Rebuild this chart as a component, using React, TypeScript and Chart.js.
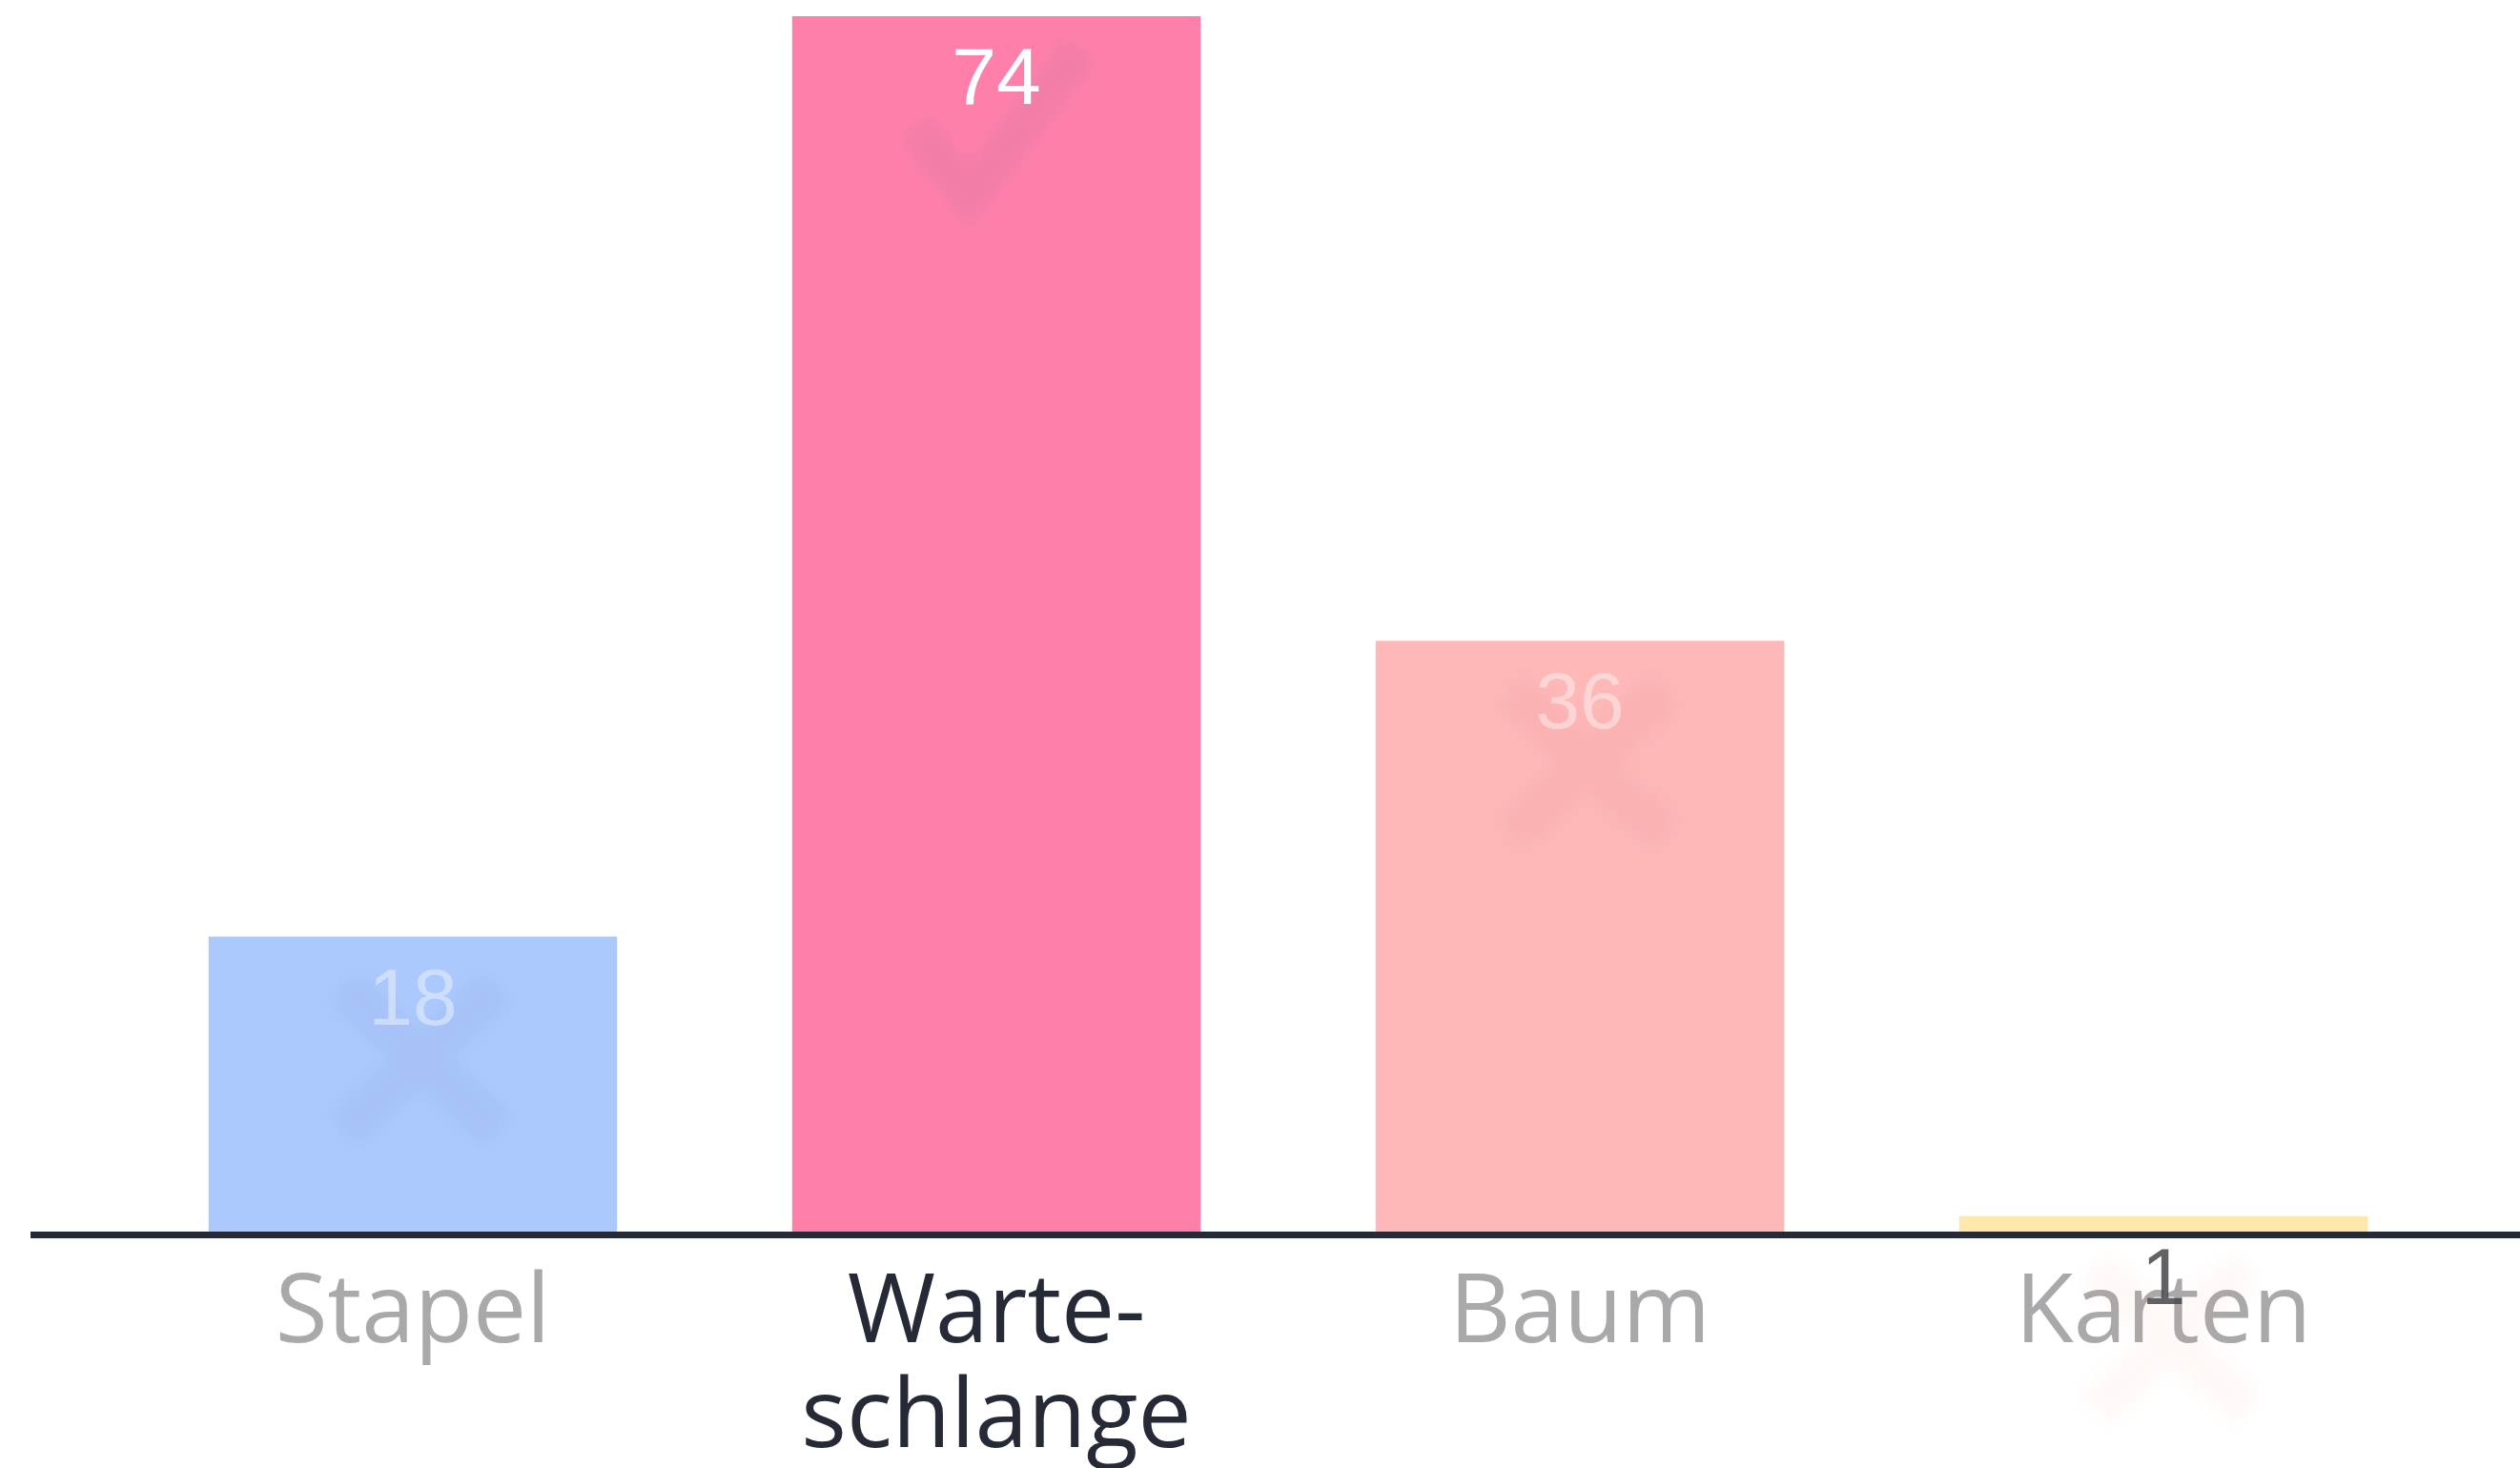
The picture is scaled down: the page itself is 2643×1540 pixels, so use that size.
import React, { useEffect, useRef } from "react";
import { Chart, registerables } from "chart.js";

Chart.register(...registerables);

const categories: (string | string[])[] = ["Stapel", ["Warte-", "schlange"], "Baum", "Karten"];
const answerCounts = [18, 74, 36, 1];
const correctAnswers = [false, true, false, false];
const barColors = ["#abc9fd", "#fe80aa", "#feb8b8", "#fee7ab"];
const tickColors = ["#a9a9ab", "#262a36", "#a9a9ab", "#a9a9ab"];
const valueColors = ["rgba(255,255,255,0.42)", "#ffffff", "rgba(255,255,255,0.42)", "rgba(70,70,75,0.85)"];
const iconColors = [
  "rgba(120,120,170,0.07)",
  "rgba(120,110,160,0.09)",
  "rgba(200,100,120,0.07)",
  "rgba(240,150,120,0.06)",
];

const overlayPlugin = {
  id: "overlay",
  afterDatasetsDraw(chart: any) {
    const ctx = chart.ctx as CanvasRenderingContext2D;
    const meta = chart.getDatasetMeta(0);
    const y0 = chart.scales.y.getPixelForValue(0);

    ctx.save();
    meta.data.forEach((bar: any, i: number) => {
      const cx = bar.x;
      const top = bar.y;
      ctx.save();
      ctx.filter = "blur(8px)";
      ctx.strokeStyle = iconColors[i];
      ctx.lineWidth = 42;
      ctx.lineCap = "butt";
      ctx.lineJoin = "miter";
      ctx.beginPath();
      if (correctAnswers[i]) {
        ctx.moveTo(cx - 86, top + 116);
        ctx.lineTo(cx - 28, top + 190);
        ctx.lineTo(cx + 88, top + 34);
      } else {
        const ix = cx + 8;
        const iy = top + 128;
        ctx.moveTo(ix - 80, iy - 75);
        ctx.lineTo(ix + 80, iy + 75);
        ctx.moveTo(ix + 80, iy - 75);
        ctx.lineTo(ix - 80, iy + 75);
      }
      ctx.stroke();
      ctx.restore();
    });

    ctx.fillStyle = "#262a36";
    ctx.fillRect(32, y0 - 1, chart.width - 32, 7);

    ctx.font = "400 84px 'Liberation Sans', Arial, sans-serif";
    ctx.textAlign = "center";
    ctx.textBaseline = "alphabetic";
    meta.data.forEach((bar: any, i: number) => {
      ctx.fillStyle = valueColors[i];
      ctx.fillText(String(answerCounts[i]), bar.x, bar.y + 92);
    });
    ctx.restore();
  },
};

export default function App() {
  const ref = useRef<HTMLCanvasElement | null>(null);

  useEffect(() => {
    if (!ref.current) return;
    const chart = new Chart(ref.current, {
      type: "bar",
      data: {
        labels: categories as any,
        datasets: [
          {
            data: answerCounts,
            backgroundColor: barColors,
            borderWidth: 0,
            barPercentage: 0.7,
            categoryPercentage: 1.0,
          },
        ],
      },
      options: {
        responsive: false,
        animation: false,
        devicePixelRatio: 1,
        layout: { padding: { left: 127, right: 68, top: 17, bottom: 0 } },
        plugins: {
          legend: { display: false },
          tooltip: { enabled: false },
          title: { display: false },
        },
        scales: {
          x: {
            offset: true,
            grid: { display: false, drawTicks: false },
            border: { display: false },
            ticks: {
              autoSkip: false,
              maxRotation: 0,
              minRotation: 0,
              padding: 32,
              font: { family: "'Open Sans', sans-serif", size: 100, weight: "400" as any, lineHeight: 1.1 },
              color: (c: any) => tickColors[c.index] ?? "#a9a9ab",
            },
          },
          y: {
            display: false,
            min: 0,
            max: 74,
          },
        },
      },
      plugins: [overlayPlugin],
    });
    return () => chart.destroy();
  }, []);

  return (
    <div style={{ position: "fixed", left: 0, top: 0, width: 2643, height: 1540, overflow: "hidden", background: "#ffffff" }}>
      <canvas ref={ref} width={2643} height={1577} style={{ display: "block", width: 2643, height: 1577 }} />
    </div>
  );
}
